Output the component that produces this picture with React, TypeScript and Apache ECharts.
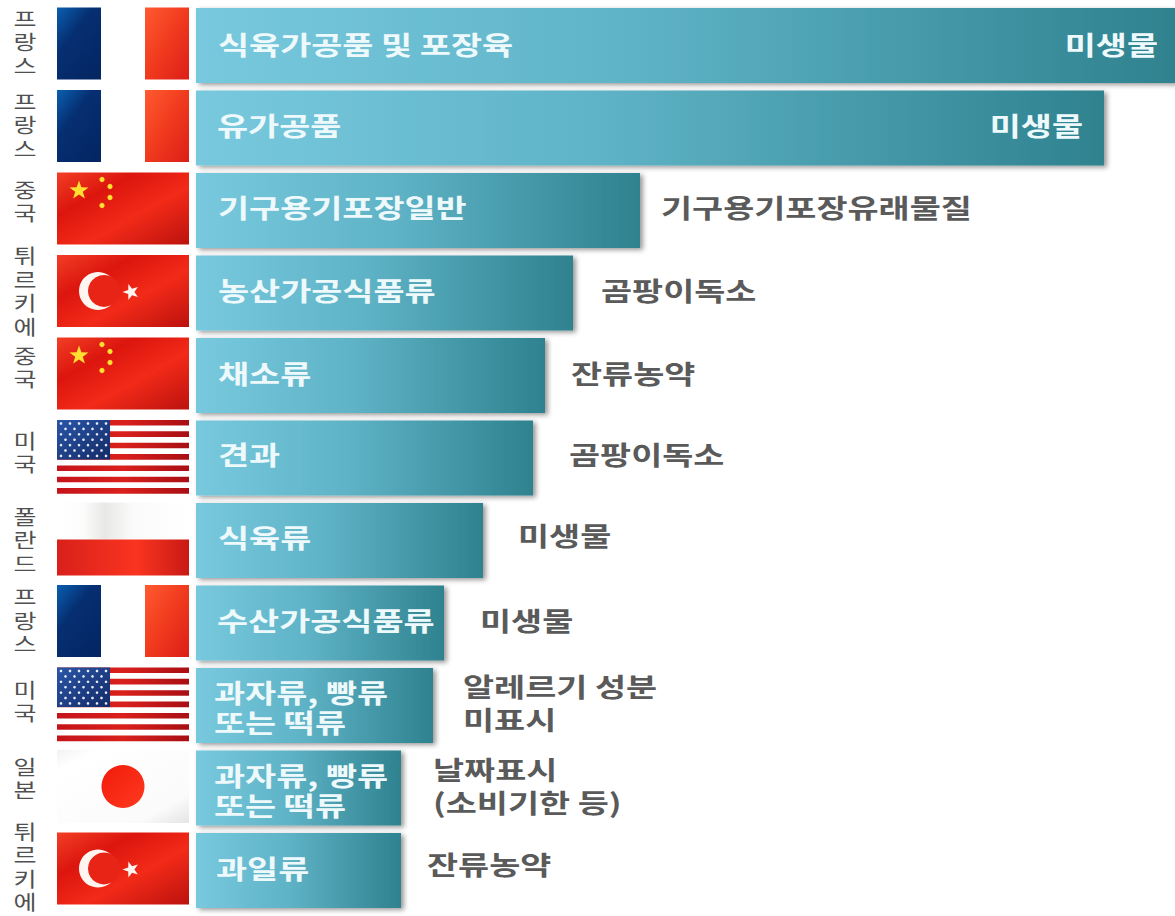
import React, { useEffect, useRef } from "react";
import * as echarts from "echarts";

// ---- data (bar lengths are relative, no axis is shown) ----
const countries = ["프랑스", "프랑스", "중국", "튀르키에", "중국", "미국", "폴란드", "프랑스", "미국", "일본", "튀르키에"];
const products = [
  "식육가공품 및 포장육", "유가공품", "기구용기포장일반", "농산가공식품류", "채소류", "견과", "식육류",
  "수산가공식품류", "과자류, 빵류\n또는 떡류", "과자류, 빵류\n또는 떡류", "과일류",
];
const hazards = [
  "미생물", "미생물", "기구용기포장유래물질", "곰팡이독소", "잔류농약", "곰팡이독소", "미생물", "미생물",
  "알레르기 성분\n미표시", "날짜표시\n(소비기한 등)", "잔류농약",
];
const values = [979, 908, 444, 377, 349, 337, 287, 248, 237, 205, 205];

// ---- layout tweaks, separate from the data ----
const hazardInside = [true, true, false, false, false, false, false, false, false, false, false];
const hazardGap = [17, 21, 21, 28, 26, 36, 35, 36, 30, 32, 26];
const hazardDy = [-2, -3, -4, -3, -2.5, -4, -6, -3, -3.5, -3, -7];
const productDx = [22, 21, 22, 22, 22, 22, 22, 21, 18, 18, 20];
const productDy = [-1.5, -3, -3.5, -3, -2.5, -4, -3.5, -3, 1, 2, -2.5];
const countryDy = [-3.5, -3, -9.5, -2, -8.5, -6, -0.5, -2.5, -4.5, -10, -4];

const FONT = '"Noto Sans CJK KR", "Noto Sans", sans-serif';
const GRAD = echarts.graphic.LinearGradient;

function star(cx: number, cy: number, R: number, r: number, rot = -Math.PI / 2) {
  const pts: number[][] = [];
  for (let k = 0; k < 10; k++) {
    const rad = k % 2 === 0 ? R : r;
    const a = rot + (k * Math.PI) / 5;
    pts.push([cx + rad * Math.cos(a), cy + rad * Math.sin(a)]);
  }
  return pts;
}
const rect = (x: number, y: number, width: number, height: number, fill: any) => ({
  type: "rect", shape: { x, y, width, height }, style: { fill },
});
const circle = (cx: number, cy: number, r: number, fill: any) => ({
  type: "circle", shape: { cx, cy, r }, style: { fill },
});
const poly = (points: number[][], fill: any) => ({ type: "polygon", shape: { points }, style: { fill } });

const W = 132;
const H = 72;
const redWave = () =>
  new GRAD(0, 0, 1, 1, [
    { offset: 0, color: "#f23e24" },
    { offset: 0.3, color: "#dc160e" },
    { offset: 0.6, color: "#f22a18" },
    { offset: 1, color: "#bc120e" },
  ]);

function flagChildren(name: string): any[] {
  if (name === "프랑스") {
    return [
      rect(0, 0, W, H, "#ffffff"),
      rect(0, 0, 44, H, new GRAD(0, 0, 0.8, 1, [
        { offset: 0, color: "#0a5fb0" },
        { offset: 0.4, color: "#062f72" },
        { offset: 1, color: "#042663" },
      ])),
      rect(88, 0, 44, H, new GRAD(0, 0, 1, 1, [
        { offset: 0, color: "#ff5a30" },
        { offset: 0.5, color: "#f03a1e" },
        { offset: 1, color: "#dc1e18" },
      ])),
    ];
  }
  if (name === "중국") {
    const y = "#ffdf30";
    return [
      rect(0, 0, W, H, redWave()),
      poly(star(22, 18, 10, 4), y),
      circle(45, 7, 2.6, y),
      circle(53, 14, 2.6, y),
      circle(53, 25, 2.6, y),
      circle(45, 33, 2.6, y),
    ];
  }
  if (name === "튀르키에") {
    return [
      rect(0, 0, W, H, redWave()),
      circle(41, 36, 19, "#fff6f2"),
      circle(47, 36, 16, "#e82416"),
      poly(star(74, 37, 8.5, 3.4, Math.PI), "#fff6f2"),
    ];
  }
  if (name === "미국") {
    const out: any[] = [rect(0, 0, W, 74, "#ffffff")];
    for (let k = 0; k < 7; k++) {
      out.push(rect(0, k * 11.35, W, 5.6, new GRAD(0, 0, 1, 0, [
        { offset: 0, color: "#c4141a" },
        { offset: 0.5, color: "#d9201c" },
        { offset: 1, color: "#a80f14" },
      ])));
    }
    out.push(rect(0, 0, 53, 39.5, new GRAD(0, 0, 1, 1, [
      { offset: 0, color: "#2a56a8" },
      { offset: 1, color: "#142a66" },
    ])));
    for (let r = 0; r < 7; r++) {
      const odd = r % 2;
      for (let c = 0; c < (odd ? 5 : 6); c++) {
        out.push(circle(4 + c * 9 + (odd ? 4.5 : 0), 3.5 + r * 5.4, 1.3, "#e8eefa"));
      }
    }
    return out;
  }
  if (name === "폴란드") {
    return [
      rect(0, 0, W, 37, new GRAD(0, 0, 1, 0, [
        { offset: 0, color: "#ffffff" },
        { offset: 0.2, color: "#fcfcfc" },
        { offset: 0.36, color: "#e8e8e6" },
        { offset: 0.58, color: "#fbfbfb" },
        { offset: 1, color: "#ffffff" },
      ])),
      rect(0, 37, W, 36, new GRAD(0, 0, 1, 0, [
        { offset: 0, color: "#d8201a" },
        { offset: 0.6, color: "#fa3420" },
        { offset: 1, color: "#c81a14" },
      ])),
    ];
  }
  // 일본
  return [
    rect(0, 0, W, 73, new GRAD(0, 0, 1, 1, [
      { offset: 0, color: "#f2f2f2" },
      { offset: 0.15, color: "#ffffff" },
      { offset: 0.8, color: "#fbfbfb" },
      { offset: 1, color: "#e4e4e4" },
    ])),
    circle(66, 36.5, 21.5, new GRAD(0, 0, 1, 1, [
      { offset: 0, color: "#f01a0a" },
      { offset: 1, color: "#ff3a20" },
    ])),
  ];
}

const TEXT_SCALE = 1.3;

export default function App() {
  const ref = useRef<HTMLDivElement>(null);
  useEffect(() => {
    document.body.style.margin = "0";
    const chart = echarts.init(ref.current!, undefined, { renderer: "svg" });
    const rows = values.map((v, i) => [v, i]);
    chart.setOption({
      animation: false,
      backgroundColor: "#ffffff",
      grid: { left: 196, right: 0, top: 4.25, height: 907.5, containLabel: false },
      xAxis: { type: "value", min: 0, max: 979, show: false },
      yAxis: { type: "category", inverse: true, show: false, data: countries },
      series: [
        {
          type: "bar",
          name: "건수",
          data: values,
          barWidth: 75,
          itemStyle: {
            color: new GRAD(0, 0, 1, 0, [
              { offset: 0, color: "#78c9de" },
              { offset: 0.45, color: "#5fb3c6" },
              { offset: 1, color: "#2f828f" },
            ]),
            shadowColor: "rgba(0,0,0,0.4)",
            shadowBlur: 5,
            shadowOffsetX: 3,
            shadowOffsetY: 2,
          },
          z: 2,
        },
        {
          type: "custom",
          name: "국가",
          data: rows,
          silent: true,
          z: 3,
          encode: { x: 0, y: 1 },
          renderItem: (_p: any, api: any) => {
            const i = api.value(1);
            const [axisX, yc] = api.coord([0, i]);
            return {
              type: "group",
              x: axisX - 139,
              y: yc - 38,
              children: flagChildren(countries[i]),
            };
          },
        },
        {
          type: "custom",
          name: "레이블",
          data: rows,
          silent: true,
          z: 4,
          encode: { x: 0, y: 1 },
          renderItem: (_p: any, api: any) => {
            const i = api.value(1);
            const [xEnd, yc] = api.coord([api.value(0), i]);
            const [axisX] = api.coord([0, i]);
            const inside = hazardInside[i];
            return {
              type: "group",
              children: [
                {
                  type: "text",
                  x: axisX - 171,
                  y: yc + countryDy[i],
                  scaleX: 1.25,
                  style: {
                    text: countries[i].split("").join("\n"),
                    fill: "#505050",
                    fontFamily: FONT,
                    fontSize: 20,
                    lineHeight: 23.5,
                    align: "center",
                    verticalAlign: "middle",
                  },
                },
                {
                  type: "text",
                  x: axisX + productDx[i],
                  y: yc + productDy[i],
                  scaleX: TEXT_SCALE,
                  style: {
                    text: products[i],
                    fill: "#eef9fc",
                    fontFamily: FONT,
                    fontWeight: 700,
                    fontSize: 26,
                    lineHeight: 30,
                    align: "left",
                    verticalAlign: "middle",
                  },
                },
                {
                  type: "text",
                  x: inside ? xEnd - hazardGap[i] : xEnd + hazardGap[i],
                  y: yc + hazardDy[i],
                  scaleX: TEXT_SCALE,
                  style: {
                    text: hazards[i],
                    fill: inside ? "#eef9fc" : "#5a5a5a",
                    fontFamily: FONT,
                    fontWeight: 700,
                    fontSize: 26,
                    lineHeight: 33,
                    align: inside ? "right" : "left",
                    verticalAlign: "middle",
                  },
                },
              ],
            };
          },
        },
      ],
    });
    return () => chart.dispose();
  }, []);
  return <div ref={ref} style={{ position: "fixed", left: 0, top: 0, width: 1175, height: 916 }} />;
}
